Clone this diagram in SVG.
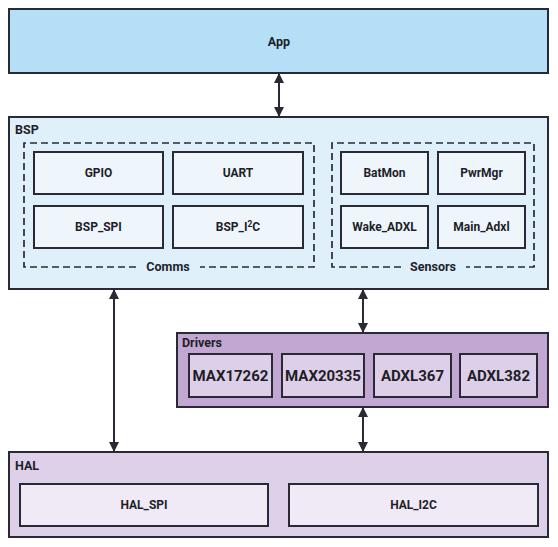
<svg xmlns="http://www.w3.org/2000/svg" width="558" height="547" viewBox="0 0 558 547">
<style>
text{font-family:Roboto,"Liberation Sans",sans-serif;font-weight:700;fill:#1e1e28;}
.c{text-anchor:middle;}
.box{stroke:#2a2a36;stroke-width:2;}
.dash{fill:none;stroke:#2a2a36;stroke-width:1.7;stroke-dasharray:7 4;}
.t12{font-size:12.5px;}
.t11{font-size:12px;}
.t14{font-size:15px;}
.conn{stroke:#2a2a36;stroke-width:2;fill:none;}
</style>
<defs>
<marker id="ah" viewBox="0 0 10 10" refX="9" refY="5" markerWidth="10" markerHeight="10" markerUnits="userSpaceOnUse" orient="auto-start-reverse">
<path d="M0,0 L10,5 L0,10 z" fill="#2a2a36"/>
</marker>
</defs>
<rect width="558" height="547" fill="#ffffff"/>

<g id="app">
<rect class="box" x="9" y="9" width="539" height="64" fill="#b4dff7"/>
<text class="c t12" x="279" y="46">App</text>
</g>

<g id="bsp">
<rect class="box" x="9" y="117" width="539" height="172" fill="#dff0fb"/>
<text class="t12" x="15" y="134">BSP</text>
</g>

<g id="comms">
<path class="dash" d="M136,267 H24 V143 H314 V267 H200"/>
<text class="c t12" x="168" y="271">Comms</text>
</g>
<g id="gpio"><rect class="box" x="34" y="152" width="129" height="42" fill="#eef6fc"/><text class="c t11" x="98.5" y="177">GPIO</text></g>
<g id="uart"><rect class="box" x="173" y="152" width="130" height="42" fill="#eef6fc"/><text class="c t11" x="238" y="177">UART</text></g>
<g id="bsp_spi"><rect class="box" x="34" y="206" width="129" height="42" fill="#eef6fc"/><text class="c t11" x="98.5" y="231">BSP_SPI</text></g>
<g id="bsp_i2c"><rect class="box" x="173" y="206" width="130" height="42" fill="#eef6fc"/><text class="c t11" x="238" y="231">BSP_I<tspan font-size="8.5" dy="-4">2</tspan><tspan dy="4">C</tspan></text></g>

<g id="sensors">
<path class="dash" d="M401,267 H332 V143 H534 V267 H466"/>
<text class="c t12" x="433" y="271">Sensors</text>
</g>
<g id="batmon"><rect class="box" x="341" y="152" width="87" height="42" fill="#eef6fc"/><text class="c t11" x="384.5" y="177">BatMon</text></g>
<g id="pwrmgr"><rect class="box" x="438" y="152" width="87" height="42" fill="#eef6fc"/><text class="c t11" x="481.5" y="177">PwrMgr</text></g>
<g id="wake_adxl"><rect class="box" x="341" y="206" width="87" height="42" fill="#eef6fc"/><text class="c t11" x="384.5" y="231">Wake_ADXL</text></g>
<g id="main_adxl"><rect class="box" x="438" y="206" width="87" height="42" fill="#eef6fc"/><text class="c t11" x="481.5" y="231">Main_Adxl</text></g>

<g id="drivers">
<rect class="box" x="177" y="333" width="371" height="74" fill="#c1a7d1"/>
<text class="t12" x="182" y="347">Drivers</text>
</g>
<g id="max17262"><rect class="box" x="189" y="354" width="83" height="43" fill="#ddcfe7"/><text class="c t14" x="230.5" y="381">MAX17262</text></g>
<g id="max20335"><rect class="box" x="282" y="354" width="82" height="43" fill="#ddcfe7"/><text class="c t14" x="323" y="381">MAX20335</text></g>
<g id="adxl367"><rect class="box" x="374" y="354" width="77" height="43" fill="#ddcfe7"/><text class="c t14" x="412.5" y="381">ADXL367</text></g>
<g id="adxl382"><rect class="box" x="460" y="354" width="77" height="43" fill="#ddcfe7"/><text class="c t14" x="498.5" y="381">ADXL382</text></g>

<g id="hal">
<rect class="box" x="9" y="452" width="539" height="85" fill="#ddd0e8"/>
<text class="t12" x="15" y="470">HAL</text>
</g>
<g id="hal_spi"><rect class="box" x="20" y="484" width="248" height="42" fill="#f0eaf6"/><text class="c t11" x="144" y="509">HAL_SPI</text></g>
<g id="hal_i2c"><rect class="box" x="289" y="484" width="249" height="42" fill="#f0eaf6"/><text class="c t11" x="413.5" y="509">HAL_I2C</text></g>

<g id="connectors">
<line class="conn" x1="279" y1="74" x2="279" y2="116" marker-start="url(#ah)" marker-end="url(#ah)"/>
<line class="conn" x1="114" y1="290" x2="114" y2="451" marker-start="url(#ah)" marker-end="url(#ah)"/>
<line class="conn" x1="363" y1="290" x2="363" y2="332" marker-start="url(#ah)" marker-end="url(#ah)"/>
<line class="conn" x1="363" y1="408" x2="363" y2="451" marker-start="url(#ah)" marker-end="url(#ah)"/>
</g>
</svg>
